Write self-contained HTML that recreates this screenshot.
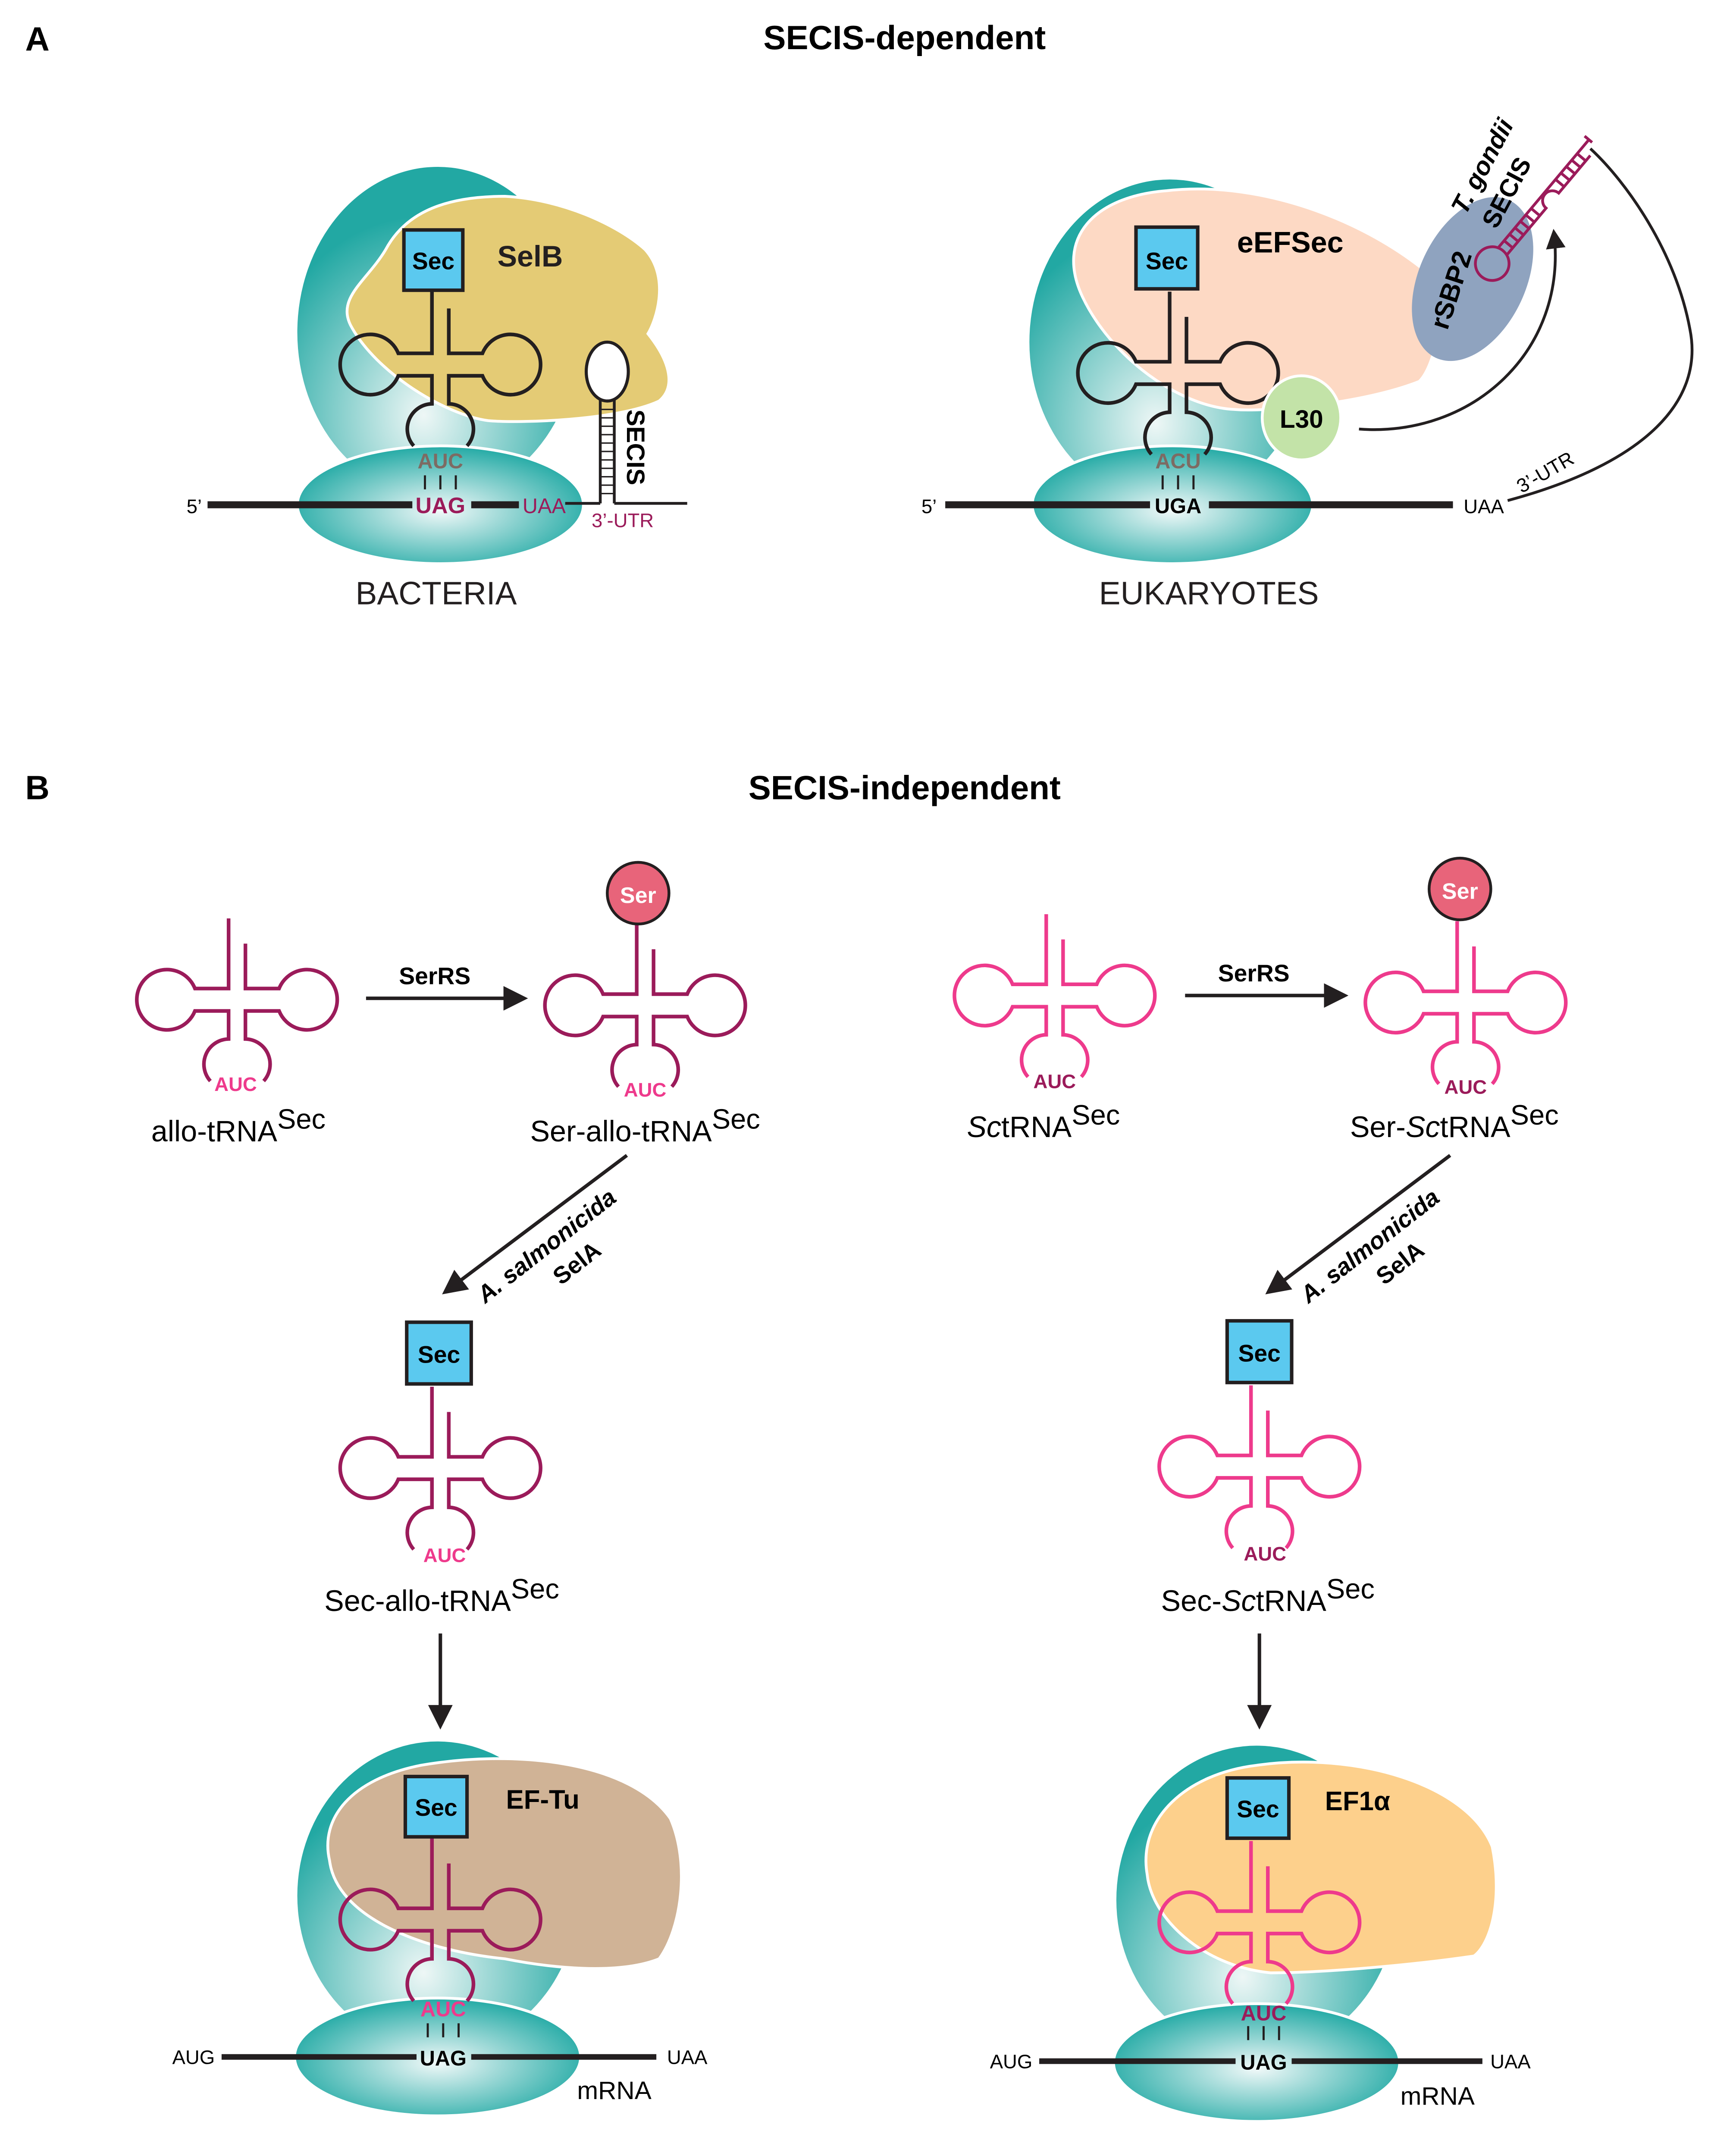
<!DOCTYPE html>
<html><head><meta charset="utf-8"><style>
html,body{margin:0;padding:0;background:#fff;width:3968px;height:5128px;overflow:hidden}
svg{display:block}
text{font-family:"Liberation Sans",sans-serif}
</style></head><body>
<svg width="3968" height="5128" viewBox="0 0 1220 1577" preserveAspectRatio="none" xmlns="http://www.w3.org/2000/svg">
<defs>
<radialGradient id="gL" cx="0.45" cy="0.75" r="0.6"><stop offset="0" stop-color="#eef7f6"/><stop offset="1" stop-color="#22a8a3"/></radialGradient>
<radialGradient id="gS" cx="0.5" cy="0.55" r="0.55"><stop offset="0" stop-color="#f2f9f9"/><stop offset="1" stop-color="#23aaa5"/></radialGradient>
<path id="t" fill="none" stroke="currentColor" stroke-width="2.6" d="M-6 -58 V-8 H-30 A21.5 21.5 0 1 0 -30 8 H-6 V28 A18 18 0 0 0 -19 58 M6 -40 V-8 H30 A21.5 21.5 0 1 1 30 8 H6 V28 A18 18 0 0 1 19 58"/>
<marker id="ah" viewBox="0 0 10 10" refX="8" refY="5" markerWidth="7" markerHeight="7" orient="auto"><path d="M0,0 L10,5 L0,10z" fill="#231f20"/></marker>
</defs>

<text x="18" y="36" font-size="24" font-weight="bold">A</text>
<text x="645" y="35" font-size="24" font-weight="bold" text-anchor="middle">SECIS-dependent</text>

<!-- Bacteria -->
<ellipse cx="312" cy="237" rx="100" ry="118" fill="url(#gL)"/>
<path d="M250,232 C240,212 262,200 275,178 C290,150 320,140 360,140 C400,142 440,160 460,178 C478,198 468,228 462,238 C478,258 482,276 470,286 C440,300 370,302 348,300 C318,296 268,266 250,232Z" fill="#e4cb75" stroke="#fff" stroke-width="2"/>
<ellipse cx="314" cy="360" rx="102" ry="42" fill="url(#gS)" stroke="#fff" stroke-width="2"/>
<use href="#t" x="314" y="260" style="color:#231f20"/>
<rect x="288" y="164" width="42" height="43" fill="#5bc9ef" stroke="#231f20" stroke-width="2.5"/>
<text x="309" y="192" font-size="17" font-weight="bold" text-anchor="middle">Sec</text>
<text x="378" y="190" font-size="21" font-weight="bold" text-anchor="middle" fill="#231f20">SelB</text>
<text x="314" y="334" font-size="15" font-weight="bold" fill="#7d6b63" text-anchor="middle">AUC</text>
<path d="M303,339 v10 M314,339 v10 M325,339 v10" stroke="#231f20" stroke-width="1.5"/>
<path d="M148,360 H294 M336,360 H370" stroke="#231f20" stroke-width="5"/>
<path d="M403,359 H428 M438,359 H490" stroke="#231f20" stroke-width="2"/>
<text x="133" y="366" font-size="14">5’</text>
<text x="314" y="366" font-size="16" font-weight="bold" fill="#9b1b5a" text-anchor="middle">UAG</text>
<text x="388" y="366" font-size="15" fill="#9b1b5a" text-anchor="middle">UAA</text>
<path d="M428,359 V285 M438,359 V285" stroke="#231f20" stroke-width="2"/>
<path d="M428,292 h10 M428,298 h10 M428,304 h10 M428,310 h10 M428,316 h10 M428,322 h10 M428,328 h10 M428,334 h10 M428,340 h10 M428,346 h10 M428,352 h10" stroke="#231f20" stroke-width="1"/>
<ellipse cx="433" cy="265" rx="15" ry="21" fill="#fff" stroke="#231f20" stroke-width="2.2"/>
<text transform="translate(447,292) rotate(90)" font-size="18" font-weight="bold">SECIS</text>
<text x="444" y="376" font-size="14" fill="#9b1b5a" text-anchor="middle">3’-UTR</text>
<text x="311" y="431" font-size="23" text-anchor="middle" fill="#231f20">BACTERIA</text>

<!-- Eukaryotes -->
<ellipse cx="834" cy="244" rx="100" ry="116" fill="url(#gL)"/>
<path d="M772,212 C752,170 780,140 832,136 C902,128 980,160 1024,200 C1030,230 1022,262 1012,272 C972,288 902,294 880,292 C840,290 792,254 772,212Z" fill="#fdd9c4" stroke="#fff" stroke-width="2"/>
<ellipse cx="836" cy="360" rx="100" ry="42" fill="url(#gS)" stroke="#fff" stroke-width="2"/>
<use href="#t" x="840" y="266" style="color:#231f20"/>
<rect x="810" y="162" width="44" height="44" fill="#5bc9ef" stroke="#231f20" stroke-width="2.5"/>
<text x="832" y="192" font-size="17" font-weight="bold" text-anchor="middle">Sec</text>
<text x="920" y="180" font-size="21" font-weight="bold" text-anchor="middle">eEFSec</text>
<ellipse cx="928" cy="298" rx="28" ry="30" fill="#c3e3a8" stroke="#fff" stroke-width="2"/>
<text x="928" y="305" font-size="18" font-weight="bold" text-anchor="middle">L30</text>
<ellipse cx="1050" cy="199" rx="38" ry="62" transform="rotate(25 1050 199)" fill="#8fa3bf"/>
<text transform="translate(1032,236) rotate(-72)" font-size="19" font-weight="bold">rSBP2</text>
<g transform="translate(1064,188) rotate(40)" stroke="#9b1b5a" stroke-width="2" fill="none">
<circle cx="0" cy="0" r="12"/>
<path d="M-4,-12 V-112 M-8,-112 H-1 M4,-12 V-55 A7 7 0 0 1 4,-69 V-104"/>
<path d="M-4,-18 h8 M-4,-24 h8 M-4,-30 h8 M-4,-36 h8 M-4,-42 h8 M-4,-48 h8 M-4,-75 h8 M-4,-81 h8 M-4,-87 h8 M-4,-93 h8 M-4,-99 h8"/>
</g>
<text transform="translate(1045,154) rotate(-62)" font-size="18" font-weight="bold" font-style="italic">T. gondii</text>
<text transform="translate(1067,164) rotate(-62)" font-size="18" font-weight="bold">SECIS</text>
<path d="M969,306 C1050,312 1118,250 1108,166" fill="none" stroke="#231f20" stroke-width="2" marker-end="url(#ah)"/>
<path d="M1075,357 C1175,330 1215,285 1205,235 C1195,180 1160,130 1134,106" fill="none" stroke="#231f20" stroke-width="2"/>
<path d="M674,360 H820 M862,360 H1036" stroke="#231f20" stroke-width="5"/>
<text x="657" y="366" font-size="14">5’</text>
<text x="840" y="334" font-size="15" font-weight="bold" fill="#7d6b63" text-anchor="middle">ACU</text>
<path d="M829,339 v10 M840,339 v10 M851,339 v10" stroke="#231f20" stroke-width="1.5"/>
<text x="840" y="366" font-size="15" font-weight="bold" text-anchor="middle">UGA</text>
<text x="1058" y="366" font-size="14" text-anchor="middle">UAA</text>
<text transform="translate(1085,352) rotate(-30)" font-size="14">3’-UTR</text>
<text x="862" y="431" font-size="23" text-anchor="middle" fill="#231f20">EUKARYOTES</text>

<!-- Panel B -->
<g transform="translate(0,5)">
<text x="18" y="565" font-size="24" font-weight="bold">B</text>
<text x="645" y="565" font-size="24" font-weight="bold" text-anchor="middle">SECIS-independent</text>

<use href="#t" x="169" y="708" style="color:#9b1b5a"/>
<text x="168" y="773" font-size="14" font-weight="bold" fill="#ee3a8c" text-anchor="middle">AUC</text>
<text x="170" y="809" font-size="21" text-anchor="middle">allo-tRNA<tspan dy="-9" font-size="20">Sec</tspan></text>

<use href="#t" x="460" y="712" style="color:#9b1b5a"/>
<circle cx="455" cy="632" r="22" fill="#e8647a" stroke="#231f20" stroke-width="2"/>
<text x="455" y="639" font-size="16" font-weight="bold" fill="#fff" text-anchor="middle">Ser</text>
<text x="460" y="777" font-size="14" font-weight="bold" fill="#ee3a8c" text-anchor="middle">AUC</text>
<text x="460" y="809" font-size="21" text-anchor="middle">Ser-allo-tRNA<tspan dy="-9" font-size="20">Sec</tspan></text>
<line x1="261" y1="707" x2="373" y2="707" stroke="#231f20" stroke-width="2.5" marker-end="url(#ah)"/>
<text x="310" y="697" font-size="17" font-weight="bold" text-anchor="middle">SerRS</text>

<use href="#t" x="752" y="705" style="color:#ee3a8c"/>
<text x="752" y="771" font-size="14" font-weight="bold" fill="#9b1b5a" text-anchor="middle">AUC</text>
<text x="744" y="806" font-size="21" text-anchor="middle"><tspan font-style="italic">Sc</tspan>tRNA<tspan dy="-9" font-size="20">Sec</tspan></text>

<use href="#t" x="1045" y="710" style="color:#ee3a8c"/>
<circle cx="1041" cy="629" r="22" fill="#e8647a" stroke="#231f20" stroke-width="2"/>
<text x="1041" y="636" font-size="16" font-weight="bold" fill="#fff" text-anchor="middle">Ser</text>
<text x="1045" y="775" font-size="14" font-weight="bold" fill="#9b1b5a" text-anchor="middle">AUC</text>
<text x="1037" y="806" font-size="21" text-anchor="middle">Ser-<tspan font-style="italic">Sc</tspan>tRNA<tspan dy="-9" font-size="20">Sec</tspan></text>
<line x1="845" y1="705" x2="958" y2="705" stroke="#231f20" stroke-width="2.5" marker-end="url(#ah)"/>
<text x="894" y="695" font-size="17" font-weight="bold" text-anchor="middle">SerRS</text>

<line x1="447" y1="819" x2="318" y2="916" stroke="#231f20" stroke-width="2.5" marker-end="url(#ah)"/>
<text transform="translate(346,925) rotate(-38)" font-size="17" font-weight="bold" font-style="italic">A. salmonicida</text>
<text transform="translate(400,912) rotate(-38)" font-size="17" font-weight="bold">SelA</text>
<line x1="1034" y1="819" x2="905" y2="916" stroke="#231f20" stroke-width="2.5" marker-end="url(#ah)"/>
<text transform="translate(933,925) rotate(-38)" font-size="17" font-weight="bold" font-style="italic">A. salmonicida</text>
<text transform="translate(987,912) rotate(-38)" font-size="17" font-weight="bold">SelA</text>

<use href="#t" x="314" y="1042" style="color:#9b1b5a"/>
<rect x="290" y="938" width="46" height="44" fill="#5bc9ef" stroke="#231f20" stroke-width="2.5"/>
<text x="313" y="967" font-size="17" font-weight="bold" text-anchor="middle">Sec</text>
<text x="317" y="1109" font-size="14" font-weight="bold" fill="#ee3a8c" text-anchor="middle">AUC</text>
<text x="315" y="1144" font-size="21" text-anchor="middle">Sec-allo-tRNA<tspan dy="-9" font-size="20">Sec</tspan></text>

<use href="#t" x="898" y="1041" style="color:#ee3a8c"/>
<rect x="875" y="937" width="46" height="44" fill="#5bc9ef" stroke="#231f20" stroke-width="2.5"/>
<text x="898" y="966" font-size="17" font-weight="bold" text-anchor="middle">Sec</text>
<text x="902" y="1108" font-size="14" font-weight="bold" fill="#9b1b5a" text-anchor="middle">AUC</text>
<text x="904" y="1144" font-size="21" text-anchor="middle">Sec-<tspan font-style="italic">Sc</tspan>tRNA<tspan dy="-9" font-size="20">Sec</tspan></text>

<line x1="314" y1="1160" x2="314" y2="1225" stroke="#231f20" stroke-width="2.5" marker-end="url(#ah)"/>
<line x1="898" y1="1160" x2="898" y2="1225" stroke="#231f20" stroke-width="2.5" marker-end="url(#ah)"/>
</g>

<g transform="translate(0,7)">
<!-- E. coli -->
<ellipse cx="312" cy="1345" rx="100" ry="110" fill="url(#gL)"/>
<path d="M235,1320 C228,1290 250,1262 300,1252 C370,1240 450,1250 478,1290 C492,1322 486,1368 470,1390 C440,1402 390,1396 360,1390 C300,1384 240,1360 235,1320Z" fill="#d0b396" stroke="#fff" stroke-width="2"/>
<ellipse cx="312" cy="1460" rx="102" ry="42" fill="url(#gS)" stroke="#fff" stroke-width="2"/>
<use href="#t" x="314" y="1362" style="color:#9b1b5a"/>
<rect x="289" y="1260" width="44" height="43" fill="#5bc9ef" stroke="#231f20" stroke-width="2.5"/>
<text x="311" y="1288" font-size="17" font-weight="bold" text-anchor="middle">Sec</text>
<text x="387" y="1283" font-size="19" font-weight="bold" text-anchor="middle">EF-Tu</text>
<text x="316" y="1431" font-size="15" font-weight="bold" fill="#ee3a8c" text-anchor="middle">AUC</text>
<path d="M305,1436 v10 M316,1436 v10 M327,1436 v10" stroke="#231f20" stroke-width="1.5"/>
<path d="M158,1460 H297 M336,1460 H468" stroke="#231f20" stroke-width="4"/>
<text x="316" y="1466" font-size="15" font-weight="bold" text-anchor="middle">UAG</text>
<text x="138" y="1465" font-size="14" text-anchor="middle">AUG</text>
<text x="490" y="1465" font-size="14" text-anchor="middle">UAA</text>
<text x="438" y="1490" font-size="18" text-anchor="middle">mRNA</text>
<text x="312" y="1554" font-size="22" font-style="italic" text-anchor="middle">E. coli</text>

<!-- S. cerevisiae -->
<ellipse cx="896" cy="1348" rx="100" ry="110" fill="url(#gL)"/>
<path d="M818,1330 C811,1290 846,1258 896,1252 C966,1242 1046,1265 1064,1310 C1072,1350 1062,1380 1051,1388 C996,1396 936,1400 906,1400 C856,1395 821,1360 818,1330Z" fill="#fdd08c" stroke="#fff" stroke-width="2"/>
<ellipse cx="896" cy="1464" rx="102" ry="42" fill="url(#gS)" stroke="#fff" stroke-width="2"/>
<use href="#t" x="898" y="1364" style="color:#ee3a8c"/>
<rect x="875" y="1261" width="44" height="43" fill="#5bc9ef" stroke="#231f20" stroke-width="2.5"/>
<text x="897" y="1289" font-size="17" font-weight="bold" text-anchor="middle">Sec</text>
<text x="968" y="1284" font-size="19" font-weight="bold" text-anchor="middle">EF1α</text>
<text x="901" y="1434" font-size="15" font-weight="bold" fill="#9b1b5a" text-anchor="middle">AUC</text>
<path d="M890,1438 v10 M901,1438 v10 M912,1438 v10" stroke="#231f20" stroke-width="1.5"/>
<path d="M741,1463 H881 M921,1463 H1057" stroke="#231f20" stroke-width="4"/>
<text x="901" y="1469" font-size="15" font-weight="bold" text-anchor="middle">UAG</text>
<text x="721" y="1468" font-size="14" text-anchor="middle">AUG</text>
<text x="1077" y="1468" font-size="14" text-anchor="middle">UAA</text>
<text x="1025" y="1494" font-size="18" text-anchor="middle">mRNA</text>
<text x="897" y="1554" font-size="22" font-style="italic" text-anchor="middle">S. cerevisiae</text>
</g>
</svg>
</body></html>
